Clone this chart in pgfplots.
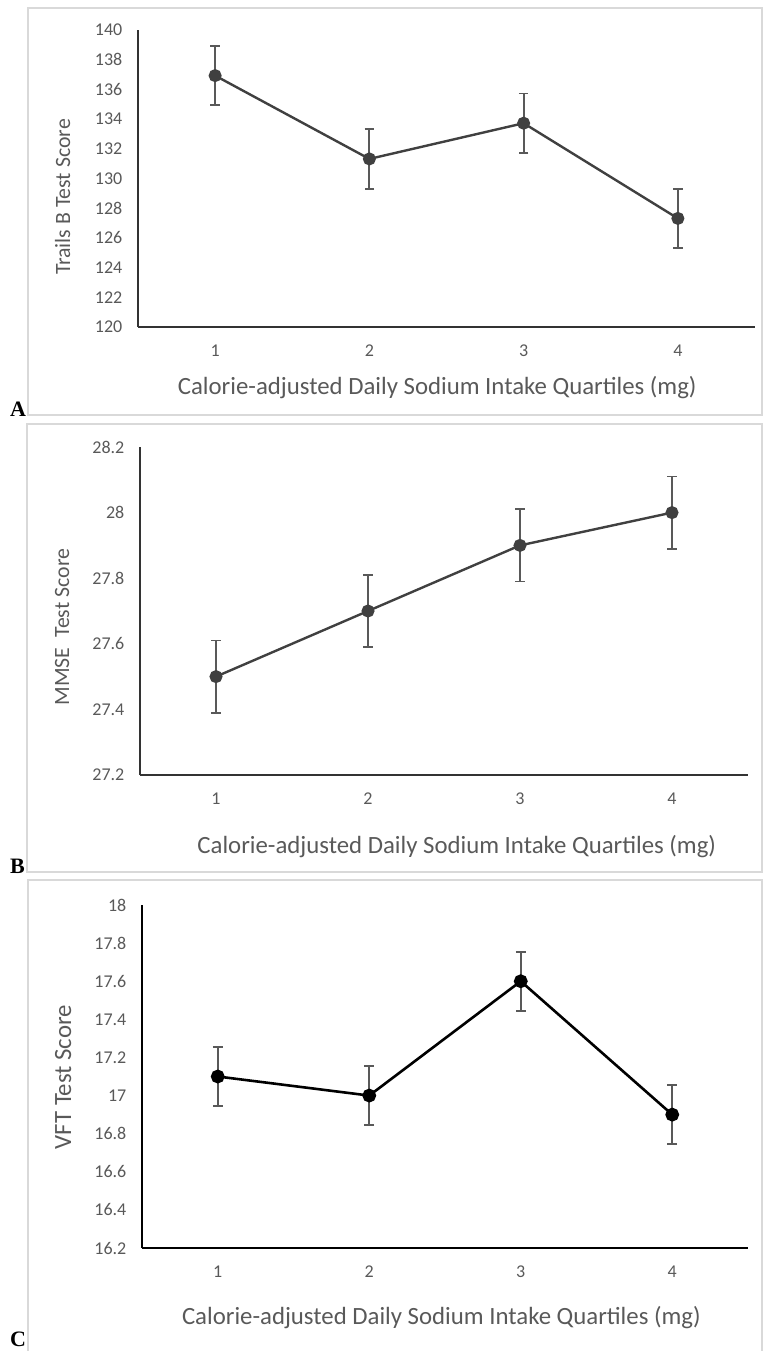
\documentclass[border=0pt]{standalone}
\usepackage{fontspec}
\setmainfont{Carlito}
\newfontfamily\panelfont{Liberation Serif}
\usepackage{pgfplots}
\pgfplotsset{compat=1.18}

\definecolor{lbl}{HTML}{595959}
\definecolor{ser}{HTML}{404040}
\definecolor{frame}{HTML}{D9D9D9}

\pgfplotsset{
  panel/.style={
    scale only axis, clip=false,
    anchor=south west,
    axis lines=left,
    axis line style={-, line width=1.8pt, color=black!80},
    xmin=0.5, xmax=4.5, xtick={1,2,3,4},
    tick style={draw=none},
    tick label style={font=\fontsize{18}{18}\selectfont, color=lbl},
    /pgf/number format/assume math mode=true,
    label style={font=\fontsize{24.8}{25}\selectfont, color=lbl},
    yticklabel style={xshift=-10pt},
    xticklabel style={yshift=-12pt},
  },
  errs/.style={
    error bars/.cd, y dir=both, y explicit,
    error bar style={line width=1.8pt, color=lbl},
    error mark options={rotate=90, mark size=4.8pt, line width=1.8pt, color=lbl},
  },
}

\begin{document}
\begin{tikzpicture}
\useasboundingbox (0,0) rectangle (763pt,-1351pt);

% panel frames
\draw[frame, line width=1.5pt] (28pt,-8pt) rectangle (762pt,-415pt);
\draw[frame, line width=1.5pt] (27pt,-424pt) rectangle (762pt,-872pt);
\draw[frame, line width=1.5pt] (28pt,-880pt) rectangle (762pt,-1360pt);

% A
\begin{axis}[panel, at={(138pt,-327pt)}, width=617pt, height=297.5pt,
    ymin=120, ymax=140, ytick={120,122,...,140},
    ylabel={Trails B Test Score}, xlabel={Calorie-adjusted Daily Sodium Intake Quartiles (mg)},
    ylabel style={at={(axis description cs:-0.122,0.437)}, anchor=center, font=\fontsize{21.8}{22}\selectfont},
    xlabel style={at={(axis description cs:0.485,-0.205)}, anchor=center}]
\addplot[color=ser, line width=2.4pt, mark=*, mark size=5.3pt, mark options={fill=ser, draw=ser}, errs]
  coordinates {(1,136.9) +- (0,2) (2,131.3) +- (0,2) (3,133.7) +- (0,2) (4,127.3) +- (0,2)};
\end{axis}

% B
\begin{axis}[panel, at={(140pt,-775pt)}, width=608pt, height=328pt,
    ymin=27.2, ymax=28.2, ytick={27.2,27.4,27.6,27.8,28,28.2},
    ylabel={MMSE\ \ Test Score}, xlabel={Calorie-adjusted Daily Sodium Intake Quartiles (mg)},
    ylabel style={at={(axis description cs:-0.128,0.451)}, anchor=center, font=\fontsize{21.8}{22}\selectfont},
    xlabel style={at={(axis description cs:0.521,-0.2195)}, anchor=center}]
\addplot[color=ser, line width=2.4pt, mark=*, mark size=5.3pt, mark options={fill=ser, draw=ser}, errs]
  coordinates {(1,27.5) +- (0,0.11) (2,27.7) +- (0,0.11) (3,27.9) +- (0,0.11) (4,28.0) +- (0,0.11)};
\end{axis}

% C
\begin{axis}[panel, at={(142pt,-1248pt)}, width=606pt, height=343pt,
    axis line style={-, line width=1.8pt, color=black},
    ymin=16.2, ymax=18, ytick={16.2,16.4,16.6,16.8,17,17.2,17.4,17.6,17.8,18},
    ylabel={VFT Test Score}, xlabel={Calorie-adjusted Daily Sodium Intake Quartiles (mg)},
    ylabel style={at={(axis description cs:-0.130,0.4985)}, anchor=center},
    xlabel style={at={(axis description cs:0.494,-0.204)}, anchor=center}]
\addplot[color=black, line width=2.6pt, mark=*, mark size=5.6pt, mark options={fill=black, draw=black}, errs]
  coordinates {(1,17.1) +- (0,0.155) (2,17.0) +- (0,0.155) (3,17.6) +- (0,0.155) (4,16.9) +- (0,0.155)};
\end{axis}

% panel letters
\node[anchor=base west, inner sep=0pt] at (10pt,-416pt) {\panelfont\bfseries\fontsize{22}{22}\selectfont A};
\node[anchor=base west, inner sep=0pt] at (10pt,-873pt) {\panelfont\bfseries\fontsize{22}{22}\selectfont B};
\node[anchor=base west, inner sep=0pt] at (10pt,-1346pt) {\panelfont\bfseries\fontsize{22}{22}\selectfont C};
\end{tikzpicture}
\end{document}
